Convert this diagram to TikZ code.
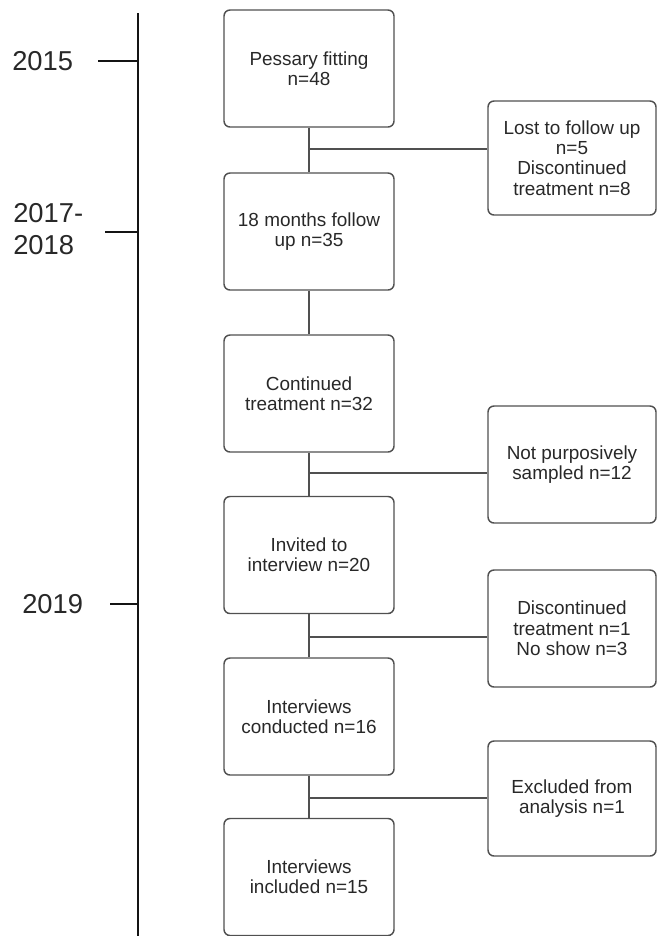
\documentclass[tikz,border=0pt]{standalone}
\usepackage{fontspec}
\setmainfont{Liberation Sans}
\usetikzlibrary{positioning}
\definecolor{boxline}{RGB}{80, 80, 80}
\definecolor{axisline}{RGB}{20, 20, 20}
\definecolor{textgray}{RGB}{40, 40, 40}
\tikzset{
  stagebox/.style={draw=boxline, line width=1.1pt, rounded corners=4.5pt, minimum width=127.5pt, minimum height=87.75pt, align=center, text=textgray, font=\fontsize{14.2}{15.3}\selectfont},
  exitbox/.style={stagebox, minimum width=126pt},
  link/.style={draw=boxline, line width=1.1pt},
  yearlabel/.style={anchor=west, inner sep=0pt, align=left, text=textgray, font=\fontsize{20.5}{24}\selectfont},
  timeline/.style={draw=axisline, line width=2pt}
}

\begin{document}
\begin{tikzpicture}[x=0.75pt, y=-0.75pt]
    \useasboundingbox (0, 0) rectangle (657, 936);

    % Time axis
    \coordinate (ttop) at (138, 13);
    \coordinate (tbot) at (138, 936);
    \draw[timeline] (ttop) -- (tbot);

    % Years
    \node[yearlabel] (y2015) at (12, 61) {2015};
    \coordinate (k2015) at (98, 61);
    \draw[timeline] (k2015) -- (k2015 -| ttop);

    \node[yearlabel] (y2017) at (13, 229) {2017-\\2018};
    \coordinate (k2017) at (105, 232);
    \draw[timeline] (k2017) -- (k2017 -| ttop);

    \node[yearlabel] (y2019) at (22, 604) {2019};
    \coordinate (k2019) at (110, 604);
    \draw[timeline] (k2019) -- (k2019 -| ttop);

    % Main stages
    \node[stagebox] (fit) at (309, 68.5) {Pessary fitting\\n=48};
    \node[stagebox] (follow) at (309, 231.5) {18 months follow\\up n=35};
    \node[stagebox] (cont) at (309, 393.5) {Continued\\treatment n=32};
    \node[stagebox] (invite) at (309, 555) {Invited to\\interview n=20};
    \node[stagebox] (conduct) at (309, 716.5) {Interviews\\conducted n=16};
    \node[stagebox] (incl) at (309, 877) {Interviews\\included n=15};

    \draw[link] (fit) -- (follow);
    \draw[link] (follow) -- (cont);
    \draw[link] (cont) -- (invite);
    \draw[link] (invite) -- (conduct);
    \draw[link] (conduct) -- (incl);

    % Exclusions
    \node[exitbox, minimum height=85.5pt] (lost) at (572, 158) {Lost to follow up\\n=5\\Discontinued\\treatment n=8};
    \node[exitbox] (notsamp) at (572, 464.5) {Not purposively\\sampled n=12};
    \node[exitbox] (noshow) at (572, 628.5) {Discontinued\\treatment n=1\\No show n=3};
    \node[exitbox, minimum height=86.25pt] (excl) at (572, 798.5) {Excluded from\\analysis n=1};

    \coordinate (j1) at (309, 149);
    \coordinate (j2) at (309, 473);
    \coordinate (j3) at (309, 637);
    \coordinate (j4) at (309, 798);
    \draw[link] (j1) -- (j1 -| lost.west);
    \draw[link] (j2) -- (j2 -| notsamp.west);
    \draw[link] (j3) -- (j3 -| noshow.west);
    \draw[link] (j4) -- (j4 -| excl.west);
\end{tikzpicture}
\end{document}
